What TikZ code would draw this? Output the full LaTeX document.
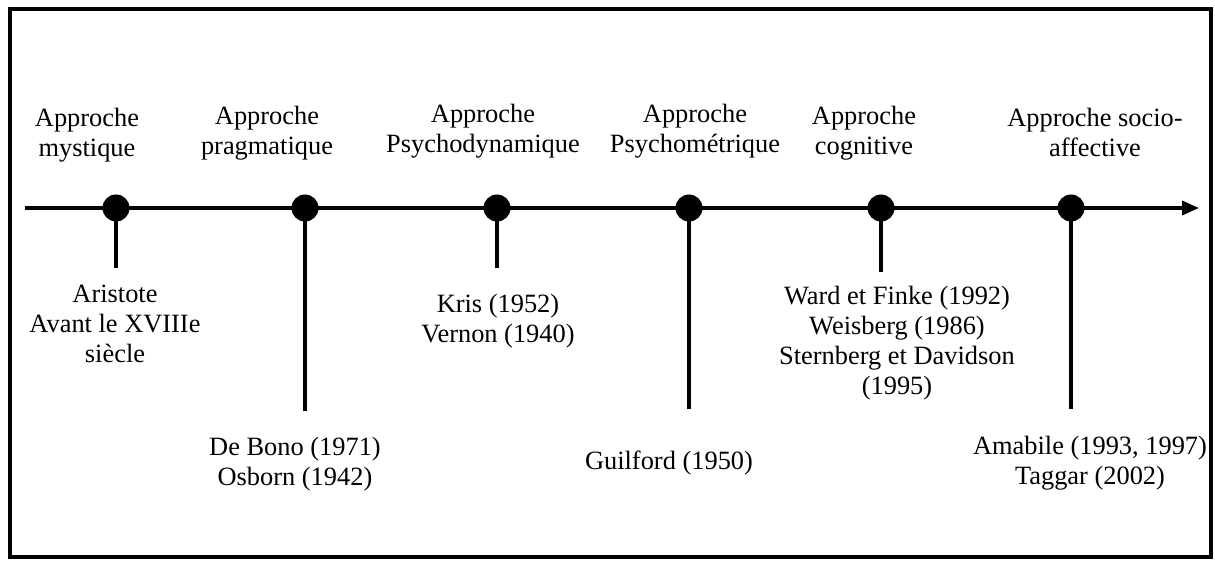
\documentclass[tikz,border=0pt]{standalone}
\usepackage{fontspec}
\setmainfont{Liberation Serif}
\usetikzlibrary{arrows.meta}
\newcommand{\lbl}[1]{\begin{tabular}[t]{@{}c@{}}#1\end{tabular}}
\begin{document}
\begin{tikzpicture}[x=0.5pt,y=-0.5pt,
  txt/.style={inner sep=0pt,anchor=base,font=\fontsize{13.2}{15}\selectfont},
  dot/.style={circle,fill=black,inner sep=0pt,minimum size=13.5pt},
  axisline/.style={line width=1.75pt,-{Triangle[length=8.5pt,width=7pt]}},
  stem/.style={line width=2pt},
  frame/.style={line width=1.75pt}]
\useasboundingbox (0,0) rectangle (1215,561);
\draw[frame] (10,9) rectangle (1211,557);
% axis
\coordinate (a0) at (25,208);
\coordinate (a1) at (1199,208);
\draw[axisline] (a0) -- (a1);
% stem ends
\coordinate (e1) at (116,268);
\coordinate (e2) at (305,411);
\coordinate (e3) at (497,268);
\coordinate (e4) at (689,409);
\coordinate (e5) at (881,272);
\coordinate (e6) at (1071,409);
% dot positions
\coordinate (p1) at (116,208);
\coordinate (p2) at (305,208);
\coordinate (p3) at (497,208);
\coordinate (p4) at (689,208);
\coordinate (p5) at (881,208);
\coordinate (p6) at (1071,208);
\foreach \i in {1,...,6}{\draw[stem] (p\i) -- (e\i);}
\foreach \i in {1,...,6}{\node[dot] (d\i) at (p\i) {};}
% top labels
\node[txt] (t1) at (87,127) {\lbl{Approche\\mystique}};
\node[txt] (t2) at (267,125) {\lbl{Approche\\pragmatique}};
\node[txt] (t3) at (483,123) {\lbl{Approche\\Psychodynamique}};
\node[txt] (t4) at (695,123) {\lbl{Approche\\Psychométrique}};
\node[txt] (t5) at (864,125) {\lbl{Approche\\cognitive}};
\node[txt] (t6) at (1095,127) {\lbl{Approche socio-\\affective}};
% bottom labels
\node[txt] (b1) at (115,302) {\lbl{Aristote\\Avant le XVIIIe\\siècle}};
\node[txt] (b2) at (295,455) {\lbl{De Bono (1971)\\Osborn (1942)}};
\node[txt] (b3) at (498,313) {\lbl{Kris (1952)\\Vernon (1940)}};
\node[txt] (b4) at (669,469) {\lbl{Guilford (1950)}};
\node[txt] (b5) at (897,305) {\lbl{Ward et Finke (1992)\\Weisberg (1986)\\Sternberg et Davidson\\(1995)}};
\node[txt] (b6) at (1090,454) {\lbl{Amabile (1993, 1997)\\Taggar (2002)}};
\end{tikzpicture}
\end{document}
